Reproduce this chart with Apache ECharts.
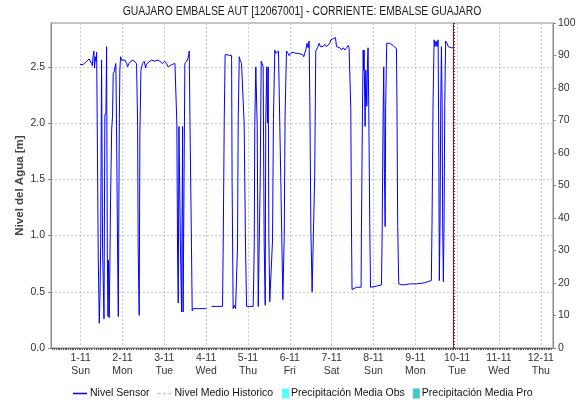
<!DOCTYPE html>
<html>
<head>
<meta charset="utf-8">
<script src="https://cdn.jsdelivr.net/npm/echarts@6/dist/echarts.min.js"></script>
<style>
  html, body { margin: 0; padding: 0; background: #ffffff; }
  #chart { width: 580px; height: 405px; }
</style>
</head>
<body>
<div id="chart"></div>
<script>
// Hours counted from 1 Nov 00:00 and the level (m) read by the sensor at that time
const horas = [
  -0.4, 1.5, 2.1, 3.4, 4.9, 5.3, 6.3, 6.7, 7.2, 7.6, 8.0, 8.4, 8.8, 9.2, 9.5, 10.1, 10.7, 11.1, 11.5, 12.0,
  12.6, 13.4, 13.9, 14.5, 14.9, 15.3, 15.7, 16.0, 16.4, 16.8, 17.2, 17.8, 18.3, 18.7, 19.3, 19.7, 20.2, 20.6, 21.2, 21.6,
  22.2, 22.5, 22.9, 23.5, 24.4, 25.4, 26.4, 26.9, 27.7, 28.8, 30.2, 31.1, 32.1, 32.7, 33.0, 33.6, 34.0, 34.6, 35.5, 36.5,
  37.3, 37.8, 38.8, 40.7, 42.6, 44.1, 45.5, 46.8, 48.3, 49.3, 50.2, 51.2, 52.2, 53.1, 54.1, 55.0, 55.2, 55.6, 56.0, 56.4,
  56.9, 57.3, 57.9, 58.5, 58.8, 59.8, 60.8, 61.7, 62.3, 62.7, 63.6, 64.0, 64.6, 68.4, 72.2, 73.5, 75.1, 81.4, 81.8, 82.4,
  82.9, 86.6, 86.9, 87.5, 88.1, 88.9, 89.4, 90.0, 90.4, 91.0, 91.5, 92.3, 93.3, 93.8, 94.6, 95.2, 99.0, 99.6, 99.9, 100.5,
  101.3, 101.9, 102.4, 103.0, 103.6, 104.1, 104.7, 105.3, 105.9, 106.2, 106.8, 107.2, 107.6, 108.0, 108.5, 109.5, 110.1, 110.6, 111.4, 112.0,
  112.7, 113.5, 114.3, 114.8, 115.4, 116.0, 116.8, 117.3, 118.1, 119.1, 119.6, 120.4, 121.2, 121.9, 123.5, 124.8, 125.7, 127.3, 128.0, 129.2,
  129.9, 130.5, 131.1, 131.5, 132.1, 132.8, 133.8, 134.3, 134.9, 135.9, 136.8, 137.6, 138.4, 139.1, 140.1, 141.0, 142.0, 143.0, 143.5, 144.3,
  144.9, 145.4, 146.2, 146.8, 147.8, 148.7, 149.7, 150.6, 151.6, 152.5, 153.5, 154.0, 154.4, 155.0, 155.4, 155.7, 156.3, 158.3, 160.9, 161.1,
  161.7, 162.1, 162.4, 162.6, 163.2, 163.6, 164.2, 164.5, 164.9, 165.3, 165.9, 166.3, 169.7, 172.6, 173.0, 173.5, 173.9, 174.3, 174.7, 175.0,
  175.6, 176.4, 177.3, 178.3, 179.3, 180.2, 181.2, 181.5, 181.9, 182.5, 185.0, 188.8, 192.6, 197.4, 198.4, 199.3, 201.2, 201.6, 202.2, 202.8,
  203.3, 203.9, 204.5, 205.1, 205.5, 205.8, 206.2, 206.6, 207.0, 207.4, 207.7, 208.1, 208.5, 208.9, 209.4, 210.2, 210.9, 211.7, 212.7, 213.6
];
const nivel = [
  2.52, 2.52, 2.53, 2.55, 2.57, 2.56, 2.53, 2.51, 2.60, 2.64, 2.49, 2.59, 2.55, 2.63, 2.03, 0.81, 0.22, 0.46, 0.93, 2.56,
  0.87, 0.26, 2.07, 2.09, 2.68, 0.87, 0.28, 0.78, 0.27, 0.78, 1.35, 1.94, 2.06, 2.44, 2.46, 2.50, 2.53, 1.97, 0.87, 0.28,
  2.03, 2.47, 2.59, 2.56, 2.55, 2.56, 2.53, 2.50, 2.53, 2.55, 2.56, 2.55, 2.53, 1.97, 0.90, 0.29, 1.91, 2.47, 2.53, 2.55,
  2.49, 2.52, 2.54, 2.56, 2.55, 2.56, 2.55, 2.53, 2.55, 2.53, 2.50, 2.50, 2.52, 2.53, 2.53, 2.52, 2.00, 0.87, 0.40, 1.97,
  1.97, 0.87, 0.32, 1.97, 0.32, 2.53, 2.55, 2.58, 2.64, 2.06, 0.89, 0.33, 0.35, 0.35, 0.35, null, 0.37, 0.37, 0.92, 2.04,
  2.61, 2.60, 1.48, 0.35, 0.38, 0.35, 0.35, 0.90, 2.03, 2.59, 2.56, 2.53, 2.53, 2.00, 0.90, 0.37, 0.37, 0.90, 1.97, 2.50,
  1.97, 0.37, 0.37, 1.47, 2.55, 2.53, 2.50, 0.93, 0.38, 2.00, 2.50, 2.00, 2.50, 0.96, 0.41, 0.41, 0.96, 2.03, 2.65, 2.62,
  2.61, 2.64, 2.64, 1.52, 0.99, 0.43, 0.99, 2.07, 2.64, 2.62, 2.60, 2.62, 2.62, 2.63, 2.62, 2.62, 2.63, 2.61, 2.59, 2.65,
  2.71, 2.67, 2.73, 2.19, 1.05, 0.50, 0.50, 1.55, 2.64, 2.67, 2.71, 2.68, 2.67, 2.68, 2.70, 2.68, 2.68, 2.71, 2.74, 2.73,
  2.75, 2.74, 2.76, 2.68, 2.67, 2.67, 2.65, 2.67, 2.65, 2.67, 2.69, 2.67, 2.68, 2.13, 1.05, 0.52, 0.53, 0.54, 0.54, 1.06,
  2.12, 2.65, 2.47, 2.65, 1.97, 2.47, 2.15, 2.49, 2.67, 2.15, 1.06, 0.54, 0.55, 0.56, 1.05, 2.03, 2.50, 1.55, 1.08, 2.15,
  2.71, 2.72, 2.71, 2.70, 2.69, 2.68, 2.66, 2.13, 1.08, 0.57, 0.56, 0.57, 0.57, 0.58, 0.57, 0.59, 0.60, 1.12, 2.19, 2.74,
  2.68, 2.73, 2.68, 2.74, 1.67, 0.60, 1.12, 2.16, 2.68, 2.16, 1.12, 0.59, 1.12, 2.16, 2.73, 2.71, 2.68, 2.67, 2.67, 2.67
];

// Day ticks (hours from 1 Nov) with their two-line labels
const diasHoras = [0, 24, 48, 72, 96, 120, 144, 168, 192, 216, 240, 264];
const fechas = ['1-11', '2-11', '3-11', '4-11', '5-11', '6-11', '7-11', '8-11', '9-11', '10-11', '11-11', '12-11'];
const diasSemana = ['Sun', 'Mon', 'Tue', 'Wed', 'Thu', 'Fri', 'Sat', 'Sun', 'Mon', 'Tue', 'Wed', 'Thu'];

// Visible time window and current-time marker (hours from 1 Nov)
const inicioVentana = -17;
const finVentana = 271;
const ahora = 214;

// Precipitation and historic-mean series carry no values in this window
const precipObs = [];
const precipPro = [];
const nivelHistorico = [];

const titulo = 'GUAJARO EMBALSE AUT [12067001] - CORRIENTE: EMBALSE GUAJARO';

const fuente = "'Liberation Sans', Arial, sans-serif";
const colorTexto = '#333333';
const colorEje = '#8a8a8a';
const rejilla = { type: [2, 2], color: '#c8c8c8', width: 1 };

// Legend glyphs: thin solid stroke, short dashes, and a narrow swatch
const iconoLinea = 'path://M0,0H14V1.5H0Z';
const iconoGuiones = 'path://M0,0H3V1.5H0Z M5,0H8V1.5H5Z M10,0H13V1.5H10Z';
const iconoBarra = 'path://M0,0H7V10H0Z';

const chart = echarts.init(document.getElementById('chart'), null, { renderer: 'canvas' });

chart.setOption({
  animation: false,
  backgroundColor: '#ffffff',
  graphic: [
    {
      type: 'text',
      x: 302, y: 12,
      scaleX: 0.83,
      silent: true,
      style: {
        text: titulo,
        font: "12.5px 'Liberation Sans', Arial, sans-serif",
        fill: '#1a1a1a',
        textAlign: 'center',
        textVerticalAlign: 'middle'
      }
    }
  ],
  grid: {
    left: 51, right: 27, top: 23, bottom: 57,
    show: true, borderColor: colorEje, borderWidth: 1, backgroundColor: 'transparent'
  },
  legend: [
    {
      left: 73, top: 388, padding: 0,
      itemWidth: 14, itemHeight: 10, itemGap: 8,
      itemStyle: { borderWidth: 0 },
      textStyle: { fontFamily: fuente, fontSize: 10.5, color: '#111111', padding: [0, 0, 0, -2] },
      data: [
        { name: 'Nivel Sensor', icon: iconoLinea },
        { name: 'Nivel Medio Historico', icon: iconoGuiones }
      ]
    },
    {
      left: 282, top: 388, padding: 0,
      itemWidth: 7, itemHeight: 10, itemGap: 8,
      itemStyle: { borderWidth: 0 },
      textStyle: { fontFamily: fuente, fontSize: 10.5, color: '#111111', padding: [0, 0, 0, -3] },
      data: [
        { name: 'Precipitación Media Obs', icon: iconoBarra },
        { name: 'Precipitación Media Pro', icon: iconoBarra }
      ]
    }
  ],
  xAxis: {
    type: 'value',
    min: inicioVentana,
    max: finVentana,
    interval: 24,
    axisLine: { show: true, onZero: false, lineStyle: { color: colorEje } },
    axisTick: { show: true, customValues: diasHoras, length: 2, lineStyle: { color: '#555555' } },
    minorTick: { show: true, splitNumber: 24, length: 2, lineStyle: { color: '#555555' } },
    axisLabel: {
      customValues: diasHoras,
      margin: 4,
      lineHeight: 13,
      fontFamily: fuente, fontSize: 10.5, color: colorTexto,
      formatter: function (v) {
        const i = diasHoras.indexOf(Math.round(v));
        return i < 0 ? '' : fechas[i] + '\n' + diasSemana[i];
      }
    },
    splitLine: { show: true, lineStyle: rejilla },
    minorSplitLine: { show: false }
  },
  yAxis: [
    {
      type: 'value', position: 'left',
      min: 0, max: 2.89, interval: 0.5,
      name: 'Nivel del Agua [m]',
      nameLocation: 'middle',
      nameGap: 25,
      nameMoveOverlap: false,
      nameTextStyle: { fontFamily: fuente, fontSize: 11.5, fontWeight: 'bold', color: '#444444' },
      axisLine: { show: true, onZero: false, lineStyle: { color: colorEje } },
      axisTick: { show: true, length: 3, lineStyle: { color: colorEje } },
      axisLabel: {
        margin: 6, showMaxLabel: false,
        fontFamily: fuente, fontSize: 10.5, color: colorTexto,
        formatter: function (v) { return v.toFixed(1); }
      },
      splitLine: { show: true, lineStyle: rejilla }
    },
    {
      type: 'value', position: 'right',
      min: 0, max: 100, interval: 10,
      axisLine: { show: true, onZero: false, lineStyle: { color: colorEje } },
      axisTick: { show: true, length: 3, lineStyle: { color: colorEje } },
      axisLabel: { margin: 5, fontFamily: fuente, fontSize: 10.5, color: colorTexto },
      splitLine: { show: false }
    }
  ],
  series: [
    {
      name: 'Nivel Sensor',
      type: 'line',
      xAxisIndex: 0, yAxisIndex: 0,
      symbol: 'none', showSymbol: false,
      connectNulls: false,
      lineStyle: { color: '#0000ff', width: 1 },
      itemStyle: { color: '#0000ff' },
      data: horas.map(function (h, i) { return [h, nivel[i]]; }),
      markLine: {
        silent: true, symbol: 'none', animation: false,
        label: { show: false },
        data: [
          { xAxis: ahora, lineStyle: { color: '#cc0000', type: 'solid', width: 1 } },
          { xAxis: ahora + 0.6, lineStyle: { color: '#444444', type: [1, 2], width: 1 } }
        ]
      },
      z: 3
    },
    {
      name: 'Nivel Medio Historico',
      type: 'line',
      symbol: 'none', showSymbol: false,
      lineStyle: { color: '#c0c0c0', width: 1.5, type: [3, 2] },
      itemStyle: { color: '#c8c8c8' },
      data: nivelHistorico
    },
    {
      name: 'Precipitación Media Obs',
      type: 'bar', yAxisIndex: 1,
      itemStyle: { color: '#55ffff' },
      data: precipObs
    },
    {
      name: 'Precipitación Media Pro',
      type: 'bar', yAxisIndex: 1,
      itemStyle: { color: '#44c6c6' },
      data: precipPro
    }
  ]
});
</script>
</body>
</html>
